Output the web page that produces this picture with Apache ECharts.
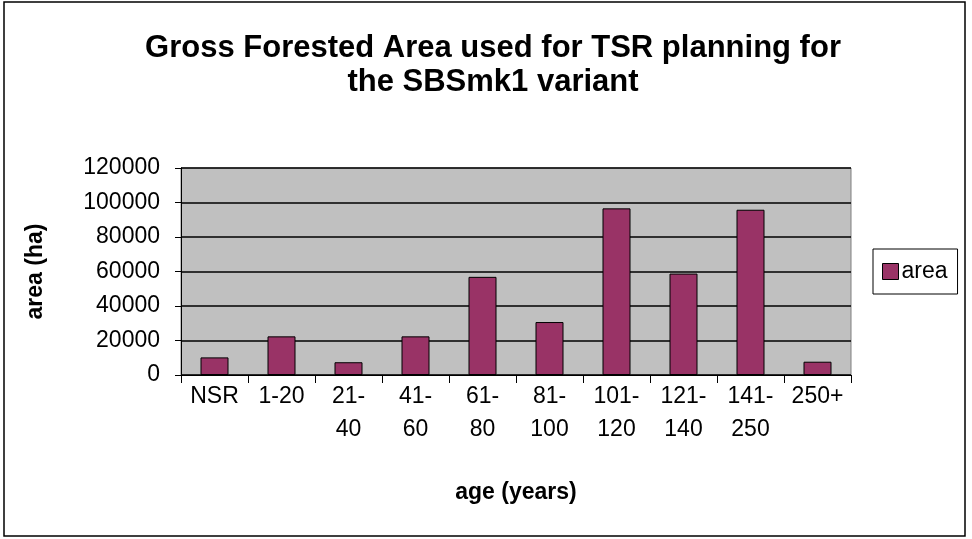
<!DOCTYPE html>
<html>
<head>
<meta charset="utf-8">
<script src="https://cdn.jsdelivr.net/npm/echarts@6/dist/echarts.min.js"></script>
<style>
  html, body { margin: 0; padding: 0; background: #fff; }
  #chart { width: 972px; height: 539px; }
</style>
</head>
<body>
<div id="chart"></div>
<script>
// age classes and gross forested area (ha)
var categories = ["NSR", "1-20", "21-\n40", "41-\n60", "61-\n80", "81-\n100", "101-\n120", "121-\n140", "141-\n250", "250+"];
var areaValues = [10200, 22400, 7400, 22400, 56900, 30700, 96600, 58800, 95800, 7700];
var yTicks = [0, 20000, 40000, 60000, 80000, 100000, 120000];

var font = "Liberation Sans, Arial, sans-serif";
var myChart = echarts.init(document.getElementById("chart"));

var option = {
  animation: false,
  backgroundColor: "#fff",
  title: {
    text: "Gross Forested Area used for TSR planning for\nthe SBSmk1 variant",
    left: 488,
    top: 26,
    textAlign: "center",
    textStyle: {
      fontFamily: font,
      fontWeight: "bold",
      fontSize: 31,
      lineHeight: 34,
      color: "#000"
    }
  },
  legend: {
    data: ["area"],
    orient: "vertical",
    left: 873,
    top: 249,
    padding: [11, 10, 11, 9],
    borderColor: "#000",
    borderWidth: 1,
    itemWidth: 16,
    itemHeight: 16,
    textStyle: { fontFamily: font, fontSize: 23, color: "#000", padding: [0, 0, 0, -2] },
    icon: "rect",
    itemStyle: { borderColor: "#000", borderWidth: 1 }
  },
  graphic: [{
    type: "rect",
    shape: { x: 4, y: 2, width: 961, height: 534 },
    style: { fill: "none", stroke: "#000", lineWidth: 1.5 },
    silent: true
  }],
  grid: {
    left: 181,
    right: 121,
    top: 168,
    bottom: 164,
    show: true,
    backgroundColor: "#c0c0c0",
    borderColor: "#808080",
    borderWidth: 1
  },
  xAxis: {
    type: "category",
    data: categories,
    name: "age (years)",
    nameLocation: "middle",
    nameGap: 106,
    nameTextStyle: { fontFamily: font, fontWeight: "bold", fontSize: 23, color: "#000" },
    axisLine: { lineStyle: { color: "#000", width: 1 } },
    axisTick: { show: true, length: 8, inside: false, lineStyle: { color: "#000" } },
    axisLabel: {
      interval: 0,
      margin: 5,
      fontFamily: font,
      fontSize: 23,
      lineHeight: 33,
      color: "#000",
      verticalAlign: "top"
    },
    splitLine: { show: false }
  },
  yAxis: {
    type: "value",
    min: yTicks[0],
    max: yTicks[yTicks.length - 1],
    interval: yTicks[1] - yTicks[0],
    name: "area (ha)",
    nameLocation: "middle",
    nameGap: 134,
    nameRotate: 90,
    nameTextStyle: { fontFamily: font, fontWeight: "bold", fontSize: 23, color: "#000" },
    axisLine: { show: true, lineStyle: { color: "#000", width: 1 } },
    axisTick: { show: true, length: 6, inside: false, lineStyle: { color: "#000" } },
    axisLabel: {
      margin: 21,
      fontFamily: font,
      fontSize: 23,
      color: "#000",
      formatter: function (v) { return String(v); }
    },
    splitLine: { show: true, lineStyle: { color: "#000", width: 1.5 } }
  },
  series: [{
    name: "area",
    type: "bar",
    data: areaValues,
    barWidth: 28,
    itemStyle: {
      color: "#993366",
      borderColor: "#000",
      borderWidth: 1
    }
  }]
};

myChart.setOption(option);
</script>
</body>
</html>
